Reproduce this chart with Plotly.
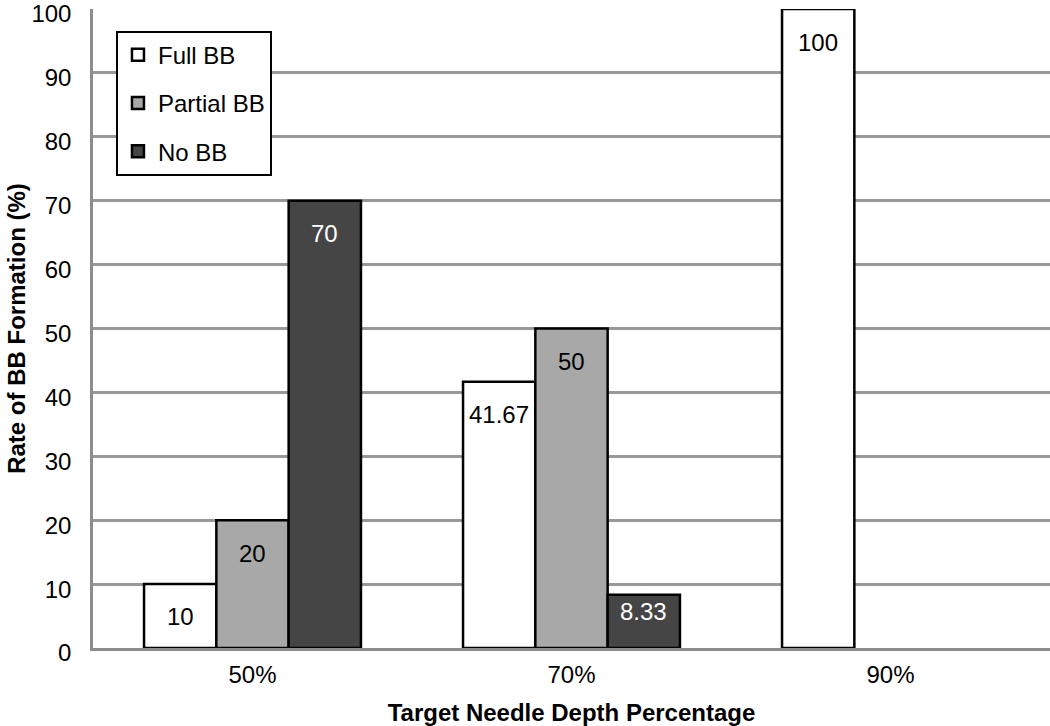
import plotly.graph_objects as go

categories = ["50%", "70%", "90%"]
series_names = ["Full BB", "Partial BB", "No BB"]
full_bb = [10, 41.67, 100]
partial_bb = [20, 50, None]
no_bb = [70, 8.33, None]
y_ticks = list(range(0, 101, 10))

series_values = [full_bb, partial_bb, no_bb]
fill_colors = ["#ffffff", "#a8a8a8", "#454545"]
label_colors = ["#000000", "#000000", "#ffffff"]

FONT = "Liberation Sans, Arial, Helvetica, sans-serif"

fig = go.Figure()
for i, (name, vals) in enumerate(zip(series_names, series_values)):
    fig.add_trace(go.Bar(
        name=name, x=categories, y=vals,
        marker=dict(color=fill_colors[i], line=dict(color="#000000", width=2.5)),
        legendgroup=name,
    ))

bar_px = 72.3
shift_px = [-bar_px, 0, bar_px]
for i, vals in enumerate(series_values):
    for cat, v in zip(categories, vals):
        if v is None:
            continue
        label = f"{v:g}"
        yshift = -33 if v > 12 else (-32 if v >= 10 else -17)
        fig.add_annotation(
            x=cat, y=v, xref="x", yref="y", text=label, showarrow=False,
            xshift=shift_px[i], yshift=yshift, yanchor="middle",
            font=dict(family=FONT, size=24, color=label_colors[i]),
        )

fig.update_layout(
    width=1050, height=726,
    margin=dict(l=93, r=0, t=9, b=78),
    paper_bgcolor="#ffffff", plot_bgcolor="#ffffff",
    barmode="group", bargap=0.32, bargroupgap=0,
    font=dict(family=FONT, size=24, color="#000000"),
    legend=dict(
        x=0.024, y=0.966, xanchor="left", yanchor="top",
        bgcolor="#ffffff", bordercolor="#000000", borderwidth=2,
        font=dict(family=FONT, size=24, color="#000000"),
        traceorder="grouped", tracegroupgap=14, itemwidth=30,
    ),
    showlegend=True,
)
fig.update_xaxes(
    type="category", showgrid=False, showline=True, linecolor="#8c8c8c", linewidth=2.5,
    ticks="", ticklabelstandoff=3, automargin=False,
    title=dict(text="<b>Target Needle Depth Percentage</b>", font=dict(family=FONT, size=24), standoff=18),
    tickfont=dict(family=FONT, size=24),
)
fig.update_yaxes(
    range=[0, 100], tickvals=y_ticks, showgrid=True, gridcolor="#999999", gridwidth=2.5,
    showline=True, linecolor="#8c8c8c", linewidth=2.5, zeroline=False,
    ticks="", ticklabelstandoff=14, ticklabelshift=5, ticklabeloverflow="allow", automargin="left",
    title=dict(text="<b>Rate of BB Formation (%)</b>", font=dict(family=FONT, size=24), standoff=0),
    tickfont=dict(family=FONT, size=24),
)

fig.write_html("out.html", config={"displayModeBar": False},
               post_script="document.body.style.margin='0px';")
